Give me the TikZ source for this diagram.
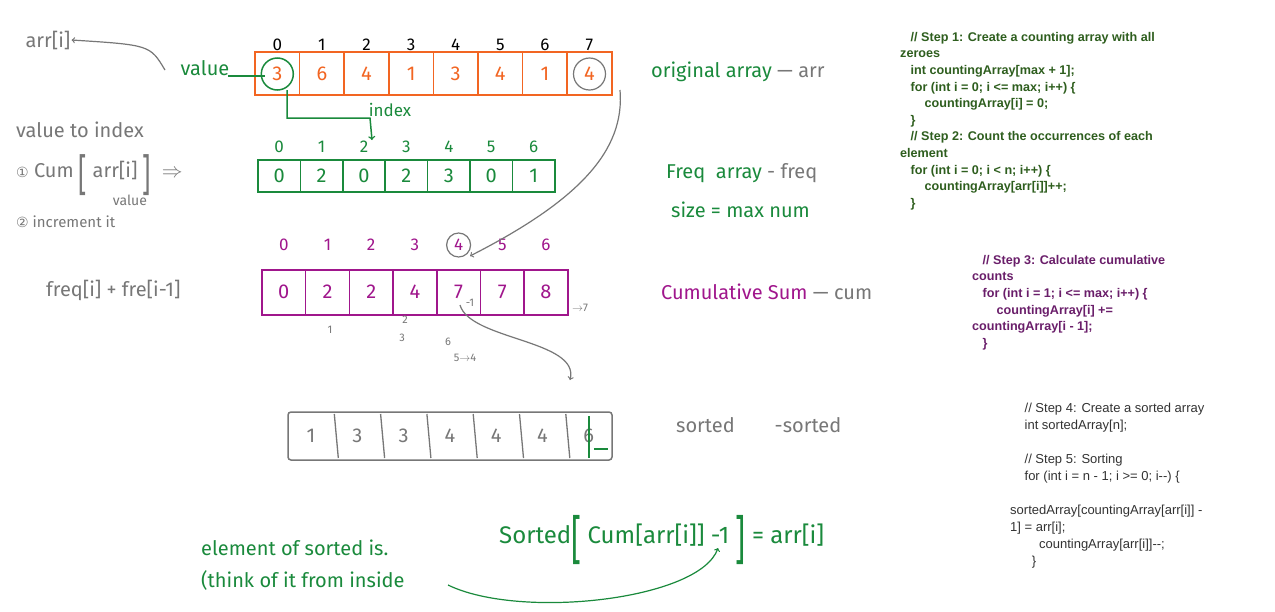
\documentclass[tikz,border=0pt]{standalone}
\usepackage{fontspec}
\usetikzlibrary{calc}
\setmainfont{Liberation Sans}
\newfontfamily\hand{Fira Sans}
\newfontfamily\dv{DejaVu Sans}
\newcommand{\bigbr}[1]{\raisebox{-0.35\height}{\scalebox{1.3}[2.2]{#1}}}
\definecolor{og}{HTML}{F26522}
\definecolor{gr}{HTML}{1A8A3C}
\definecolor{pu}{HTML}{A0168C}
\definecolor{gy}{HTML}{777777}
\definecolor{cg}{HTML}{2E5E1E}
\definecolor{cp}{HTML}{6A1E6A}
\begin{document}
\begin{tikzpicture}[x=1pt,y=-1pt,
  hw/.style={font=\hand\fontsize{20}{22}\selectfont,inner sep=1pt},
  idx/.style={font=\hand\fontsize{17}{18}\selectfont,inner sep=1pt},
  code/.style={font=\bfseries\fontsize{12.6}{16.6}\selectfont,align=left,anchor=north west,inner sep=0pt},
  codeg/.style={font=\fontsize{13}{17}\selectfont,align=left,anchor=north west,inner sep=0pt}]
\useasboundingbox (0,0) rectangle (1275,611);
\fill[white] (0,0) rectangle (1275,611);
% orange array
\draw[og,line width=2pt] (255,52) rectangle (612,95);
\foreach \v [count=\i from 0] in {3,6,4,1,3,4,1,4}{
  \pgfmathsetmacro\xx{255+\i*44.6}
  \ifnum\i>0 \draw[og,line width=1.5pt] (\xx,52) -- (\xx,95);\fi
  \node[hw,og] (o\i) at (\xx+22.3,74) {\v};
  \node[idx,black] (oi\i) at (\xx+22.3,45) {\i};
}
\draw[gr,line width=1.5pt] (o0) circle (16);
\draw[gy,line width=1.2pt] (o7) circle (16);
% freq
\draw[gr,line width=1.8pt] (258,160) rectangle (555,192);
\foreach \v [count=\i from 0] in {0,2,0,2,3,0,1}{
  \pgfmathsetmacro\xx{258+\i*42.4}
  \ifnum\i>0 \draw[gr,line width=1.5pt] (\xx,160) -- (\xx,192);\fi
  \node[hw,gr] (f\i) at (\xx+21.2,176) {\v};
  \node[idx,gr] (fi\i) at (\xx+21.2,147) {\i};
}
% cum
\draw[pu,line width=1.8pt] (262,270) rectangle (568,315);
\foreach \v [count=\i from 0] in {0,2,2,4,7,7,8}{
  \pgfmathsetmacro\xx{262+\i*43.7}
  \ifnum\i>0 \draw[pu,line width=1.5pt] (\xx,270) -- (\xx,315);\fi
  \node[hw,pu] (c\i) at (\xx+21.8,292) {\v};
  \node[idx,pu] (ci\i) at (\xx+21.8,245) {\i};
}
\draw[gy,line width=1.2pt] (ci4) circle (12);
% sorted
\draw[gy,line width=1.5pt,rounded corners=3pt] (288,412) rectangle (612,460);
\foreach \v [count=\i from 0] in {1,3,3,4,4,4,6}{
  \pgfmathsetmacro\xx{288+\i*46.3}
  \ifnum\i>0 \draw[gy,line width=1.3pt] (\xx,414) -- (\xx+4,458);\fi
  \node[hw,gy] (s\i) at (\xx+23,436) {\v};
}
\draw[gr,line width=2pt] (589,416) -- (589,458);
\draw[gr,line width=2.5pt] (594,449) -- (608,449);
% connectors
\coordinate (vA) at (228,76);
\node[hw,gr] (val) at (205,68) {value};
\draw[gr,line width=1.5pt] (vA) -- ($(o0.west)+(-6,2)$);
\node[hw,gy] (arri) at (48,40) {arr[i]};
\draw[gy,line width=1.2pt,->] (165,70) .. controls (150,45) .. (arri.east);
\node[idx,gr] (idxl) at (390,110) {index};
\draw[gr,line width=1.5pt,->] (287,90) -- (287,118) -- (370,118) -- (372,140);
\draw[gy,line width=1.2pt,->] (620,90) .. controls (625,150) and (580,200) .. (470,256);
\draw[gy,line width=1.2pt,->] (460,305) .. controls (470,340) and (580,340) .. (570,380);
% small annotations
\node[idx,gy,font=\hand\fontsize{11}{12}\selectfont] at (330,330) {1};
\node[idx,gy,font=\hand\fontsize{11}{12}\selectfont] at (405,320) {2};
\node[idx,gy,font=\hand\fontsize{11}{12}\selectfont] at (402,338) {3};
\node[idx,gy,font=\hand\fontsize{11}{12}\selectfont] at (448,342) {6};
\node[idx,gy,font=\hand\fontsize{11}{12}\selectfont] at (465,358) {5$\to$4};
\node[idx,gy,font=\hand\fontsize{11}{12}\selectfont] at (470,303) {-1};
\node[idx,gy,font=\hand\fontsize{11}{12}\selectfont] at (580,308) {$\to$7};
% left notes
\node[hw,gy,anchor=west,font=\hand\fontsize{20}{22}\selectfont] (vti) at (15,130) {value to index};
\node[hw,gy,anchor=west,font=\hand\fontsize{20}{22}\selectfont] (n1) at (15,175) {{\dv\fontsize{14}{14}\selectfont ①}\ Cum \bigbr{[} arr[i] \bigbr{]} \ $\Rightarrow$};
\node[hw,gy,font=\hand\fontsize{14}{15}\selectfont] (vv) at (130,200) {value};
\node[hw,gy,anchor=west,font=\hand\fontsize{15}{16}\selectfont] (n2) at (15,222) {{\dv\fontsize{14}{14}\selectfont ②} increment it};
\node[hw,gy,anchor=west] (fq) at (45,290) {freq[i] + fre[i-1]};
% right labels
\node[hw,gr,anchor=west] (l1) at (650,72) {original array \textcolor{gy}{— arr}};
\node[hw,gr,anchor=west] (l2) at (665,173) {Freq\ \ array \textcolor{gy}{- freq}};
\node[hw,gr,anchor=west] (l3) at (670,210) {size = max num};
\node[hw,pu,anchor=west] (l4) at (660,292) {Cumulative Sum \textcolor{gy}{— cum}};
\node[hw,gy,anchor=west] (l5) at (675,425) {sorted\qquad -sorted};
% bottom
\node[hw,gr,anchor=west] (b1) at (200,548) {element of sorted is.};
\node[hw,gr,anchor=west] (b2) at (200,580) {(think of it from inside};
\node[hw,gr,anchor=west,font=\hand\fontsize{24}{26}\selectfont] (eq) at (498,540) {Sorted\bigbr{[}\ Cum[arr[i]] -1 \bigbr{]} = arr[i]};
\draw[gr,line width=1.2pt,->] (448,585) .. controls (520,620) and (700,600) .. (718,548);
% code
\node[code,text=cg] (k1) at (900,32) {\ \ \ // Step 1: Create a counting array with all\\zeroes\\\ \ \ int countingArray[max + 1];\\\ \ \ for (int i = 0; i <= max; i++) \{\\\ \ \ \ \ \ \ countingArray[i] = 0;\\\ \ \ \}\\\ \ \ // Step 2: Count the occurrences of each\\element\\\ \ \ for (int i = 0; i < n; i++) \{\\\ \ \ \ \ \ \ countingArray[arr[i]]++;\\\ \ \ \}};
\node[code,text=cp] (k2) at (972,255) {\ \ \ // Step 3: Calculate cumulative\\counts\\\ \ \ for (int i = 1; i <= max; i++) \{\\\ \ \ \ \ \ \ countingArray[i] +=\\countingArray[i - 1];\\\ \ \ \}};
\node[codeg,text=black!80] (k3) at (1010,403) {\ \ \ \ // Step 4: Create a sorted array\\\ \ \ \ int sortedArray[n];\\[17pt]\ \ \ \ // Step 5: Sorting\\\ \ \ \ for (int i = n - 1; i >= 0; i-{}-) \{\\[17pt]sortedArray[countingArray[arr[i]] -\\1] = arr[i];\\\ \ \ \ \ \ \ \ countingArray[arr[i]]-{}-;\\\ \ \ \ \ \ \}};
\end{tikzpicture}
\end{document}
